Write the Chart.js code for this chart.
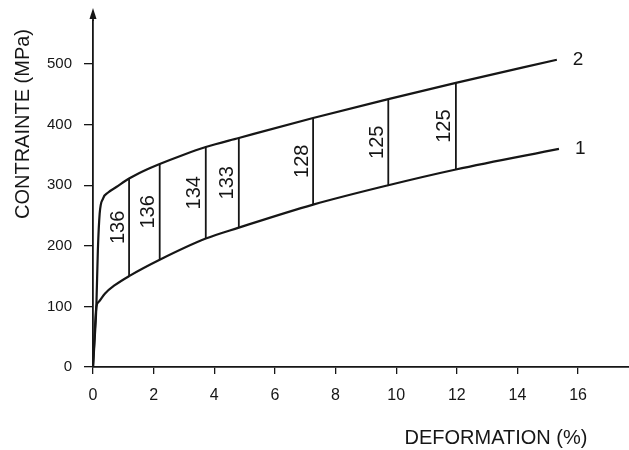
<!DOCTYPE html>
<html lang="fr">
<head>
<meta charset="UTF-8">
<title>Contrainte - deformation</title>
<style>
  * { margin: 0; padding: 0; }
  body { background: #fff; }
  #wrap { width: 629px; height: 450px; position: relative; }
</style>
</head>
<body>
<div id="wrap"><canvas id="myChart"></canvas></div>
<script src="https://cdn.jsdelivr.net/npm/chart.js@4.4.1/dist/chart.umd.min.js"></script>
<script>
// courbe 1 (basse)
const strain1 = [0, 0.06, 0.11, 0.2, 0.39, 0.72, 1.19, 2.2, 3.72, 4.81, 7.26, 9.74, 11.97, 15.37];
const stress1 = [0, 60, 99, 108, 121, 135, 150, 177, 212, 230, 268, 300, 326, 360];
// courbe 2 (haute)
const strain2 = [0, 0.06, 0.11, 0.16, 0.22, 0.33, 0.5, 0.77, 1.19, 1.65, 2.2, 2.97, 3.72, 4.81, 7.26, 9.74, 11.97, 15.3];
const stress2 = [0, 50, 99, 192, 253, 278, 288, 297, 311, 323, 335, 350, 363, 378, 411, 442, 469, 507];
// traits verticaux entre les deux courbes
const segStrain = [1.19, 2.2, 3.72, 4.81, 7.26, 9.74, 11.97];
const segLow = [150, 177, 212, 230, 268, 300, 326];
const segHigh = [311, 335, 363, 378, 411, 442, 469];
const segLabels = ['136', '136', '134', '133', '128', '125', '125'];
const curveNames = ['1', '2'];
const xTickValues = [0, 2, 4, 6, 8, 10, 12, 14, 16];
const yTickValues = [0, 100, 200, 300, 400, 500];
const xTitle = 'DEFORMATION (%)';
const yTitle = 'CONTRAINTE (MPa)';

const ink = '#161616';
const font = "'Liberation Sans', Arial, sans-serif";

function pts(xs, ys) {
  return xs.map((x, i) => ({ x: x, y: ys[i] }));
}

const datasets = [
  { data: pts(strain1, stress1), borderColor: ink, borderWidth: 2.2, pointRadius: 0, cubicInterpolationMode: 'monotone', fill: false },
  { data: pts(strain2, stress2), borderColor: ink, borderWidth: 2.2, pointRadius: 0, cubicInterpolationMode: 'monotone', fill: false }
];
for (let i = 0; i < segStrain.length; i++) {
  datasets.push({
    data: [{ x: segStrain[i], y: segLow[i] }, { x: segStrain[i], y: segHigh[i] }],
    borderColor: ink, borderWidth: 1.8, pointRadius: 0, fill: false
  });
}

// textes, fleche et etiquettes
const decor = {
  id: 'decor',
  afterDatasetsDraw(chart) {
    const ctx = chart.ctx;
    const xs = chart.scales.x, ys = chart.scales.y;
    const area = chart.chartArea;
    ctx.save();
    ctx.fillStyle = ink;
    ctx.strokeStyle = ink;

    // fleche en haut de l'axe y
    const ax = area.left;
    ctx.lineWidth = 1.8;
    ctx.beginPath();
    ctx.moveTo(ax, area.top);
    ctx.lineTo(ax, 14);
    ctx.stroke();
    ctx.beginPath();
    ctx.moveTo(ax, 8);
    ctx.lineTo(ax - 3.5, 19);
    ctx.lineTo(ax + 3.5, 19);
    ctx.closePath();
    ctx.fill();

    // valeurs le long des traits verticaux
    ctx.font = '20px ' + font;
    ctx.textAlign = 'center';
    ctx.textBaseline = 'middle';
    for (let i = 0; i < segStrain.length; i++) {
      const px = xs.getPixelForValue(segStrain[i]) - 12;
      const py = (ys.getPixelForValue(segLow[i]) + ys.getPixelForValue(segHigh[i])) / 2;
      ctx.save();
      ctx.translate(px, py);
      ctx.rotate(-Math.PI / 2);
      ctx.fillText(segLabels[i], 0, 1);
      ctx.restore();
    }

    // numeros des courbes
    ctx.font = '19px ' + font;
    ctx.textAlign = 'left';
    const ends = [[strain1, stress1], [strain2, stress2]];
    ends.forEach((c, k) => {
      const n = c[0].length - 1;
      ctx.fillText(curveNames[k], xs.getPixelForValue(c[0][n]) + 16, ys.getPixelForValue(c[1][n]));
    });

    // titres des axes
    ctx.font = '20px ' + font;
    ctx.textAlign = 'center';
    ctx.fillText(xTitle, 496, 438);
    ctx.save();
    ctx.translate(23, 124);
    ctx.rotate(-Math.PI / 2);
    ctx.fillText(yTitle, 0, 0);
    ctx.restore();
    ctx.restore();
  }
};

new Chart('myChart', {
  type: 'line',
  data: { datasets: datasets },
  plugins: [decor],
  options: {
    responsive: true,
    maintainAspectRatio: false,
    animation: false,
    layout: { padding: { top: 4, right: 0, left: 0, bottom: 0 } },
    plugins: { legend: { display: false }, tooltip: { enabled: false } },
    scales: {
      x: {
        type: 'linear',
        min: 0,
        max: 17.68,
        afterFit(scale) { scale.height = 83; },
        afterBuildTicks(scale) { scale.ticks = xTickValues.map(v => ({ value: v })); },
        ticks: { color: ink, padding: 12, maxRotation: 0, autoSkip: false, font: { family: font, size: 16 } },
        grid: { drawOnChartArea: false, drawTicks: true, tickLength: 7, color: ink, lineWidth: 1.3 },
        border: { display: true, color: ink, width: 1.8 }
      },
      y: {
        type: 'linear',
        min: 0,
        max: 571,
        afterFit(scale) { scale.width = 93; },
        afterBuildTicks(scale) { scale.ticks = yTickValues.map(v => ({ value: v })); },
        ticks: { color: ink, padding: 12, autoSkip: false, font: { family: font, size: 15 } },
        grid: { drawOnChartArea: false, drawTicks: true, tickLength: 9, color: ink, lineWidth: 1.3 },
        border: { display: true, color: ink, width: 1.8 }
      }
    }
  }
});
</script>
</body>
</html>
